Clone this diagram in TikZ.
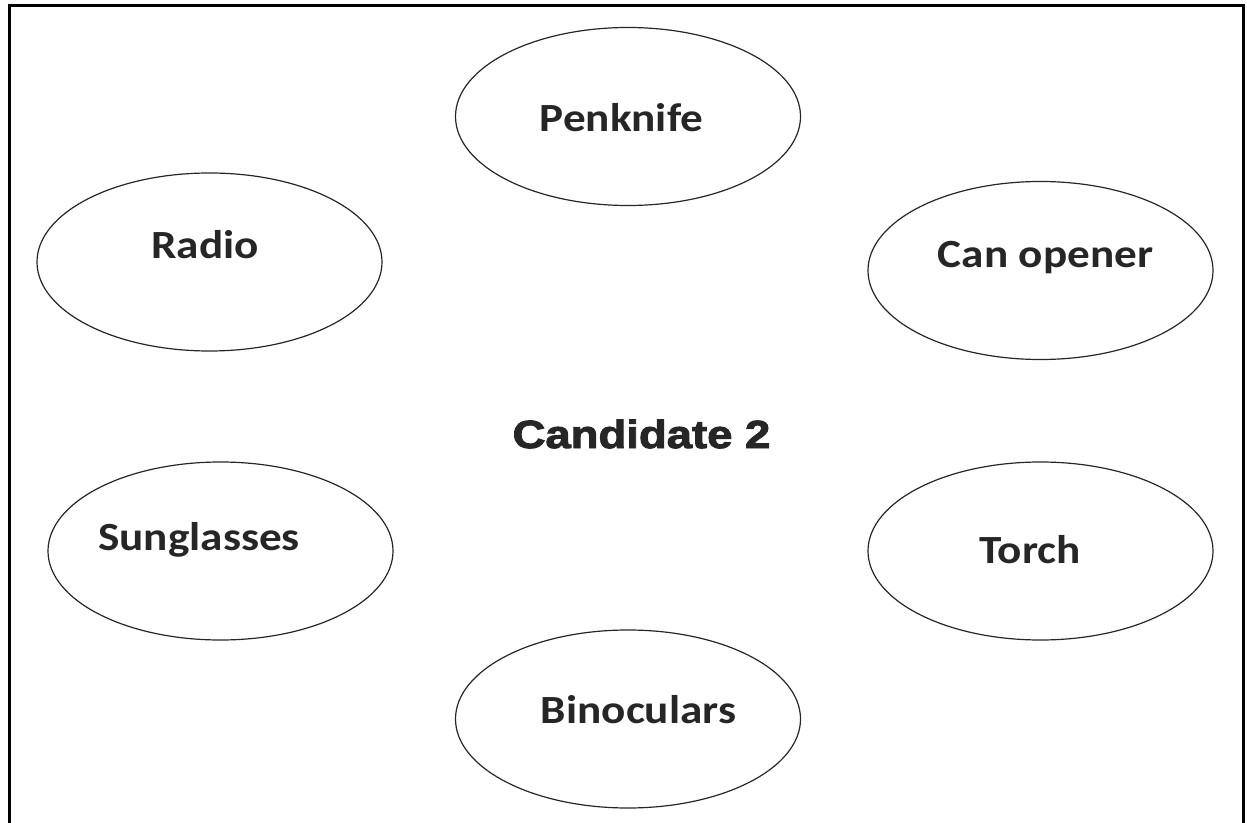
\documentclass[tikz,border=0pt]{standalone}
\usepackage{fontspec}
\newfontfamily\itemfont{Carlito}[FakeStretch=1.13]
\newfontfamily\titlefont{Liberation Sans}[FakeStretch=1.16,BoldFeatures={FakeBold=2.5}]
\usetikzlibrary{shapes}
\definecolor{inkgray}{HTML}{262626}
\tikzset{
    item/.style = {draw=inkgray, ellipse, line width=0.6pt,
        minimum width=172.5pt,
        minimum height=89pt, inner sep=0pt},
    itemlabel/.style = {anchor=base, inner sep=0pt, text=inkgray,
        font=\itemfont\fontsize{20}{24}\selectfont\bfseries},
    title/.style = {anchor=base, inner sep=0pt, text=inkgray,
        font=\titlefont\fontsize{19.6}{24}\selectfont\bfseries},
    frame/.style = {draw=black, line width=1.5pt}
}

\begin{document}
\begin{tikzpicture}[x=0.5pt, y=-0.5pt]
    \useasboundingbox (0,0) rectangle (1247,823);
    % frame, open at the bottom
    \coordinate (fbl) at (9,823);
    \coordinate (ftl) at (9,6);
    \coordinate (ftr) at (1243,6);
    \coordinate (fbr) at (1243,823);
    \draw [frame] (fbl) -- (ftl) -- (ftr) -- (fbr);
    % items
    \node [item] (penknife) at (628,116.5) {};
    \node [item] (radio) at (209.5,262) {};
    \node [item] (opener) at (1040.5,270.5) {};
    \node [item] (sunglasses) at (220.5,551) {};
    \node [item] (torch) at (1040.5,551) {};
    \node [item] (binoculars) at (628,719) {};
    \node [itemlabel] (penknifetxt) at (621.5,132) {Penknife};
    \node [itemlabel] (radiotxt) at (205,259) {Radio};
    \node [itemlabel] (openertxt) at (1045.5,268) {Can opener};
    \node [itemlabel] (sunglassestxt) at (199,550) {Sunglasses};
    \node [itemlabel] (torchtxt) at (1030,563) {Torch};
    \node [itemlabel] (binocularstxt) at (638.5,723) {Binoculars};
    \node [title] (candidate) at (641.5,448) {Candidate 2};
\end{tikzpicture}
\end{document}
